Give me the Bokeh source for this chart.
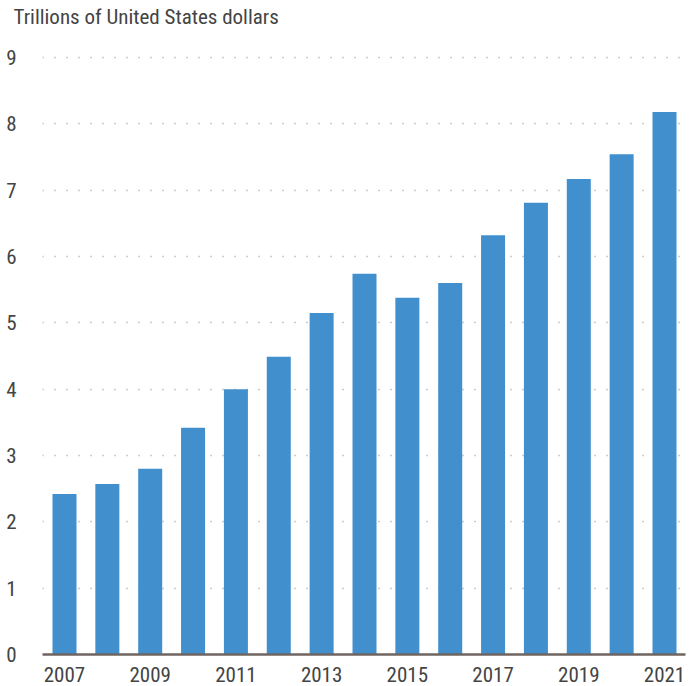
from bokeh.plotting import figure
from bokeh.models import FixedTicker, Title, ColumnDataSource
from bokeh.embed import file_html
from bokeh.resources import INLINE

years = list(range(2007, 2022))
values = [2.42, 2.57, 2.80, 3.42, 4.00, 4.49, 5.15, 5.74, 5.38, 5.60, 6.32, 6.81, 7.17, 7.54, 8.18]
y_ticks = [0, 1, 2, 3, 4, 5, 6, 7, 8, 9]
x_ticks = [2007, 2009, 2011, 2013, 2015, 2017, 2019, 2021]
title_text = "Trillions of United States dollars"

FONT = "'Roboto Condensed', 'Liberation Sans Narrow', Roboto"

src = ColumnDataSource(dict(year=years, value=values))

p = figure(width=691, height=686, output_backend="svg", toolbar_location=None,
           x_range=(2006.487, 2021.49), y_range=(0, 9.407),
           min_border_left=42, min_border_right=6, min_border_top=30, min_border_bottom=32)
p.outline_line_color = None
p.background_fill_color = "white"

p.vbar(x="year", top="value", width=0.56, source=src, color="#418FCD", line_color=None)

p.xaxis.ticker = FixedTicker(ticks=x_ticks)
p.yaxis.ticker = FixedTicker(ticks=y_ticks)
p.xgrid.grid_line_color = None
p.ygrid.grid_line_color = "#9a9a9a"
p.ygrid.grid_line_dash = "1 11"
p.ygrid.grid_line_width = 1.5
p.ygrid.level = "underlay"

for ax in (p.xaxis, p.yaxis):
    ax.major_tick_line_color = None
    ax.minor_tick_line_color = None
    ax.major_label_text_font = FONT
    ax.major_label_text_font_size = "21px"
    ax.major_label_text_color = "#444444"
p.yaxis.axis_line_color = None
p.yaxis.major_label_standoff = 20
p.xaxis.axis_line_color = "#6e6560"
p.xaxis.axis_line_width = 2.5
p.xaxis.major_label_standoff = 6

p.add_layout(Title(text=title_text, align="left", offset=-29, text_font=FONT,
                   text_font_size="21px", text_color="#444444", text_font_style="normal",
                   standoff=4), "above")

open("out.html", "w").write(file_html(p, INLINE))
